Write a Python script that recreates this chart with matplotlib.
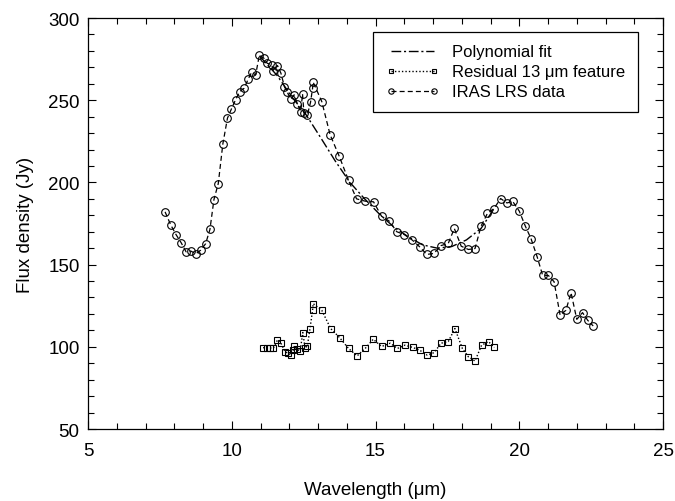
import numpy as np
import matplotlib
matplotlib.use("Agg")
import matplotlib.pyplot as plt
from matplotlib.ticker import MultipleLocator

plt.rcParams['font.family'] = ['Liberation Sans', 'DejaVu Sans']

# IRAS LRS spectrum
iras_wl = [7.68, 7.87, 8.06, 8.24, 8.41, 8.58, 8.75, 8.92, 9.09, 9.24,
           9.38, 9.53, 9.69, 9.85, 9.99, 10.13, 10.28, 10.43, 10.57, 10.69,
           10.83, 10.96, 11.12, 11.23, 11.39, 11.45, 11.59, 11.71, 11.83, 11.93,
           12.05, 12.17, 12.28, 12.40, 12.46, 12.51, 12.63, 12.74, 12.81, 12.83,
           13.13, 13.42, 13.74, 14.06, 14.34, 14.64, 14.93, 15.21, 15.48, 15.74,
           16.00, 16.28, 16.53, 16.78, 17.03, 17.28, 17.53, 17.74, 17.98, 18.23,
           18.46, 18.67, 18.89, 19.12, 19.35, 19.57, 19.77, 20.00, 20.21, 20.41,
           20.62, 20.81, 21.01, 21.21, 21.42, 21.62, 21.80, 22.00, 22.20, 22.38,
           22.57]
iras_flux = [182.1, 174.4, 168.3, 163.3, 157.8, 158.2, 156.6, 158.8, 162.7, 171.4,
             189.6, 199.3, 223.5, 239.1, 244.8, 250.2, 255.3, 257.3, 262.8, 267.0,
             265.4, 277.5, 275.5, 272.5, 271.5, 268.0, 271.1, 266.4, 258.3, 254.9,
             250.7, 253.3, 247.8, 243.1, 253.9, 242.2, 241.1, 248.8, 257.3, 261.0,
             249.2, 229.0, 215.8, 201.3, 190.0, 188.6, 188.2, 179.4, 176.4, 170.0,
             168.3, 164.9, 160.9, 156.2, 156.8, 161.6, 162.9, 172.0, 161.2, 159.2,
             159.8, 173.4, 181.1, 184.1, 190.2, 187.5, 188.5, 182.5, 173.4, 165.7,
             154.8, 143.6, 143.4, 139.6, 119.2, 122.2, 132.9, 116.7, 120.8, 116.1,
             112.7]

# residual 13 micron feature
res_wl = [11.09, 11.21, 11.33, 11.45, 11.59, 11.70, 11.85, 11.96, 12.06, 12.14,
          12.18, 12.26, 12.38, 12.47, 12.55, 12.63, 12.72, 12.81, 12.83, 13.13,
          13.44, 13.75, 14.06, 14.36, 14.64, 14.92, 15.21, 15.51, 15.76, 16.02,
          16.30, 16.53, 16.80, 17.04, 17.28, 17.53, 17.76, 18.02, 18.23, 18.46,
          18.69, 18.93, 19.13]
res_flux = [99.5, 99.3, 99.3, 99.3, 104.2, 102.6, 97.0, 96.1, 95.1, 98.1,
            100.6, 98.5, 97.5, 108.7, 99.2, 100.6, 111.1, 122.2, 126.3, 122.2,
            111.1, 105.6, 99.0, 94.5, 99.0, 104.6, 100.2, 102.2, 99.0, 101.0,
            99.6, 98.0, 94.9, 96.5, 102.2, 103.2, 111.1, 99.0, 93.9, 91.4,
            101.0, 103.2, 99.6]

# polynomial continuum fit
fit_wl = [10.96, 11.58, 12.09, 12.59, 13.10, 13.60, 14.11, 14.62, 15.12, 15.63,
          16.13, 16.64, 17.15, 17.65, 18.16, 18.67, 19.12]
fit_flux = [277, 265, 252, 241, 227, 213, 200, 190, 181, 173,
            167, 162, 160, 161, 165, 172, 184]

fig = plt.figure(figsize=(6.75, 5.02), dpi=100)
ax = fig.add_axes([0.1304, 0.1434, 0.8519, 0.8187])

ax.plot(fit_wl, fit_flux, color='k', lw=1.0, ls=(0, (7, 2, 1.5, 2)),
        label='Polynomial fit')
ax.plot(res_wl, res_flux, color='k', lw=1.0, ls=(0, (1, 1.5)),
        marker='s', ms=5, mfc='none', mec='k', mew=0.8,
        label='Residual 13 μm feature')
ax.plot(iras_wl, iras_flux, color='k', lw=0.9, ls=(0, (4, 2.5)),
        marker='o', ms=5.5, mfc='none', mec='k', mew=0.8,
        label='IRAS LRS data')

ax.set_xlim(5, 25)
ax.set_ylim(50, 300)
ax.xaxis.set_major_locator(MultipleLocator(5))
ax.xaxis.set_minor_locator(MultipleLocator(1))
ax.yaxis.set_major_locator(MultipleLocator(50))
ax.yaxis.set_minor_locator(MultipleLocator(10))
ax.tick_params(which='both', direction='in', top=True, right=True,
               labelsize=13.5, width=0.8)
ax.tick_params(which='major', length=6)
ax.tick_params(axis='x', which='major', pad=9)
ax.tick_params(axis='y', which='major', pad=6)
ax.tick_params(which='minor', length=4)
for s in ax.spines.values():
    s.set_linewidth(0.9)

ax.set_xlabel('Wavelength (μm)', fontsize=13.5, labelpad=16)
ax.set_ylabel('Flux density (Jy)', fontsize=13.5, labelpad=10)

leg = ax.legend(loc='upper right', bbox_to_anchor=(0.9565, 0.966), borderaxespad=0,
                fontsize=12, frameon=True, fancybox=False, edgecolor='k',
                framealpha=1, handlelength=3.2, handletextpad=0.8,
                borderpad=0.75, labelspacing=0.3, numpoints=2, markerscale=0.7)
leg.get_frame().set_linewidth(0.9)

fig.savefig('out.png', dpi=100)
